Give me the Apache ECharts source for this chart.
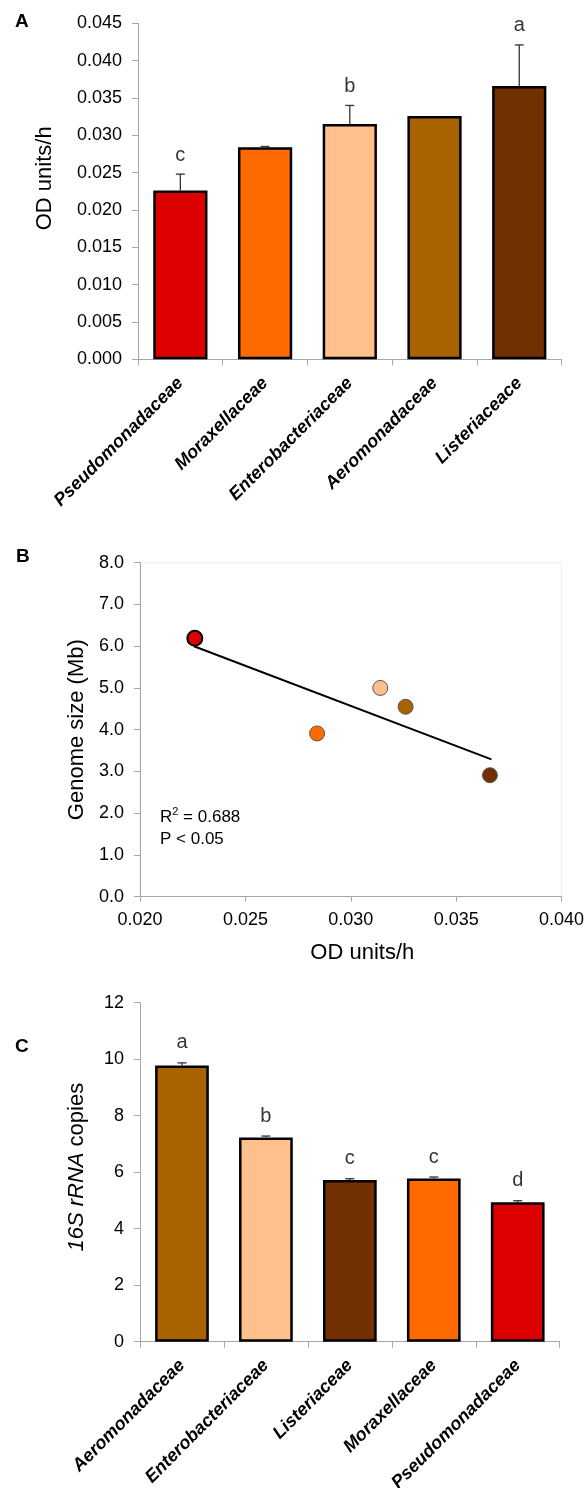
<!DOCTYPE html>
<html>
<head>
<meta charset="utf-8">
<script src="https://cdn.jsdelivr.net/npm/echarts@6/dist/echarts.min.js"></script>
<style>
html,body{margin:0;padding:0;background:#fff;}
#chart{width:585px;height:1488px;}
</style>
</head>
<body>
<div id="chart"></div>
<script>
// ---------- DATA ----------
// Panel A: growth rate (OD units/h)
const categoriesA = ['Pseudomonadaceae', 'Moraxellaceae', 'Enterobacteriaceae', 'Aeromonadaceae', 'Listeriaceace'];
const growthA = [0.0226, 0.0284, 0.0315, 0.0326, 0.0366];
const growthErrA = [0.0022, 0.0001, 0.0025, 0.0, 0.0055];
const lettersA = ['c', '', 'b', '', 'a'];
const yTicksA = { min: 0, max: 0.045, step: 0.005 };

// Panel B: genome size vs growth rate
const familiesB = ['Pseudomonadaceae', 'Moraxellaceae', 'Enterobacteriaceae', 'Aeromonadaceae', 'Listeriaceace'];
const growthB = [0.0226, 0.0284, 0.0314, 0.0326, 0.0366];
const genomeB = [6.19, 3.91, 5.00, 4.55, 2.91];
const trendX = [0.02256, 0.03667];
const trendY = [6.00, 3.29];
const statsB = ['R', '2', ' = 0.688', 'P < 0.05'];
const xTicksB = { min: 0.020, max: 0.040, step: 0.005 };
const yTicksB = { min: 0, max: 8, step: 1 };

// Panel C: 16S rRNA copies
const categoriesC = ['Aeromonadaceae', 'Enterobacteriaceae', 'Listeriaceae', 'Moraxellaceae', 'Pseudomonadaceae'];
const copiesC = [9.78, 7.23, 5.72, 5.78, 4.94];
const copiesErrC = [0.09, 0.05, 0.05, 0.05, 0.05];
const lettersC = ['a', 'b', 'c', 'c', 'd'];
const yTicksC = { min: 0, max: 12, step: 2 };

// ---------- STYLE ----------
const familyColor = {
  Pseudomonadaceae: '#DD0000',
  Moraxellaceae: '#FF6A00',
  Enterobacteriaceae: '#FFC08C',
  Aeromonadaceae: '#A86300',
  Listeriaceace: '#722F00',
  Listeriaceae: '#722F00'
};
const FONT = '"Liberation Sans", Arial, Helvetica, sans-serif';
const AXIS_COLOR = '#a6a6a6';
const TICK_FS = 18;
const CAT_FS = 18;
const NAME_FS = 22;

function catXAxis(gridIndex, data) {
  return {
    type: 'category', gridIndex: gridIndex, data: data,
    boundaryGap: true,
    axisLine: { show: true, lineStyle: { color: AXIS_COLOR, width: 1 } },
    axisTick: { show: true, length: 6, lineStyle: { color: AXIS_COLOR } },
    axisLabel: {
      interval: 0, rotate: 45, margin: 21, color: '#000',
      fontFamily: FONT, fontSize: CAT_FS, fontWeight: 'bold', fontStyle: 'italic'
    },
    splitLine: { show: false }
  };
}
function valAxis(gridIndex, t, decimals, extra) {
  return Object.assign({
    type: 'value', gridIndex: gridIndex,
    min: t.min, max: t.max, interval: t.step,
    axisLine: { show: true, lineStyle: { color: AXIS_COLOR, width: 1 } },
    axisTick: { show: true, length: 6, lineStyle: { color: AXIS_COLOR } },
    axisLabel: {
      color: '#000', fontFamily: FONT, fontSize: TICK_FS, margin: 16,
      formatter: v => Number(v).toFixed(decimals)
    },
    splitLine: { show: false }
  }, extra || {});
}

function errorSeries(xi, yi, means, errs) {
  return {
    type: 'custom', xAxisIndex: xi, yAxisIndex: yi, z: 5,
    data: means.map((m, i) => [i, m, errs[i]]),
    renderItem: function (params, api) {
      const i = api.value(0), m = api.value(1), e = api.value(2);
      if (!e) return null;
      const p0 = api.coord([i, m]);
      const p1 = api.coord([i, m + e]);
      const st = { stroke: '#333', lineWidth: 1.3 };
      return {
        type: 'group', children: [
          { type: 'line', shape: { x1: p0[0], y1: p0[1], x2: p1[0], y2: p1[1] }, style: st },
          { type: 'line', shape: { x1: p1[0] - 4.5, y1: p1[1], x2: p1[0] + 4.5, y2: p1[1] }, style: st }
        ]
      };
    },
    silent: true
  };
}
function letterSeries(xi, yi, means, errs, letters, dist) {
  return {
    type: 'scatter', xAxisIndex: xi, yAxisIndex: yi, symbolSize: 0, z: 6,
    data: means.map((m, i) => [i, m + errs[i]]),
    label: {
      show: true, position: 'top', distance: dist, color: '#000',
      fontFamily: FONT, fontSize: 20,
      formatter: p => letters[p.dataIndex]
    },
    silent: true
  };
}
function barSeries(xi, yi, cats, vals) {
  return {
    type: 'bar', xAxisIndex: xi, yAxisIndex: yi, barWidth: '64%',
    data: vals.map((v, i) => ({ value: v, itemStyle: { color: familyColor[cats[i]] } })),
    itemStyle: { borderColor: '#000', borderWidth: 2.5 },
    silent: true
  };
}

const option = {
  animation: false,
  textStyle: { fontFamily: FONT },
  grid: [
    { left: 138, top: 23.3, width: 423.6, height: 336, outerBoundsMode: 'none', containLabel: false },
    { left: 140, top: 562.7, width: 421.6, height: 334, outerBoundsMode: 'none', containLabel: false, show: true, borderColor: '#eeeeee', borderWidth: 1, backgroundColor: 'transparent' },
    { left: 140, top: 1002.7, width: 419.7, height: 339, outerBoundsMode: 'none', containLabel: false }
  ],
  xAxis: [
    catXAxis(0, categoriesA),
    valAxis(1, xTicksB, 3, {
      axisLabel: { color: '#000', fontFamily: FONT, fontSize: TICK_FS, margin: 14, formatter: v => Number(v).toFixed(3) },
      axisTick: { show: true, length: 5, lineStyle: { color: AXIS_COLOR } },
      name: 'OD units/h', nameLocation: 'middle', nameGap: 45,
      nameTextStyle: { color: '#000', fontFamily: FONT, fontSize: NAME_FS, padding: [0, 0, 0, 23] }
    }),
    catXAxis(2, categoriesC)
  ],
  yAxis: [
    valAxis(0, yTicksA, 3, {
      name: 'OD units/h', nameLocation: 'middle', nameGap: 82,
      nameTextStyle: { color: '#000', fontFamily: FONT, fontSize: NAME_FS, padding: [0, 0, 0, 26] }
    }),
    valAxis(1, yTicksB, 1, {
      name: 'Genome size (Mb)', nameLocation: 'middle', nameGap: 52,
      nameTextStyle: { color: '#000', fontFamily: FONT, fontSize: NAME_FS, padding: [0, 0, 0, 0] }
    }),
    valAxis(2, yTicksC, 0, {
      name: '{it|16S rRNA} copies', nameLocation: 'middle', nameGap: 52,
      nameTextStyle: {
        color: '#000', fontFamily: FONT, fontSize: NAME_FS, padding: [0, 0, 0, 10],
        rich: { it: { fontStyle: 'italic', fontSize: NAME_FS, fontFamily: FONT, color: '#000' } }
      }
    })
  ],
  series: [
    // Panel A
    barSeries(0, 0, categoriesA, growthA),
    errorSeries(0, 0, growthA, growthErrA),
    letterSeries(0, 0, growthA, growthErrA, lettersA, 9),
    // Panel B
    {
      type: 'line', xAxisIndex: 1, yAxisIndex: 1, symbol: 'none', z: 2,
      data: trendX.map((x, i) => [x, trendY[i]]),
      lineStyle: { color: '#000', width: 2 }, silent: true
    },
    {
      type: 'scatter', xAxisIndex: 1, yAxisIndex: 1, symbolSize: 15, z: 3,
      data: growthB.map((x, i) => ({
        value: [x, genomeB[i]],
        itemStyle: {
          color: familyColor[familiesB[i]],
          opacity: 1,
          borderColor: i === 0 ? '#000' : '#555',
          borderWidth: i === 0 ? 2 : 1
        }
      })),
      itemStyle: { opacity: 1 },
      silent: true
    },
    // Panel C
    barSeries(2, 2, categoriesC, copiesC),
    errorSeries(2, 2, copiesC, copiesErrC),
    letterSeries(2, 2, copiesC, copiesErrC, lettersC, 10)
  ],
  graphic: [
    { type: 'text', left: 15, top: 12, style: { text: 'A', font: 'bold 19px ' + FONT, fill: '#000' } },
    { type: 'text', left: 16, top: 547, style: { text: 'B', font: 'bold 19px ' + FONT, fill: '#000' } },
    { type: 'text', left: 15, top: 1037, style: { text: 'C', font: 'bold 19px ' + FONT, fill: '#000' } },
    {
      type: 'text', left: 160, top: 806,
      style: {
        text: '{r|' + statsB[0] + '}{s|' + statsB[1] + '}{r|' + statsB[2] + '}',
        rich: {
          r: { font: '17px ' + FONT, fill: '#000', verticalAlign: 'bottom', lineHeight: 20 },
          s: { font: '11px ' + FONT, fill: '#000', verticalAlign: 'top', lineHeight: 20, padding: [0, 0, 8, 0] }
        }
      }
    },
    { type: 'text', left: 160, top: 831, style: { text: statsB[3], font: '17px ' + FONT, fill: '#000' } }
  ]
};

const chart = echarts.init(document.getElementById('chart'), null, { renderer: 'canvas', width: 585, height: 1488 });
chart.setOption(option);
</script>
</body>
</html>
